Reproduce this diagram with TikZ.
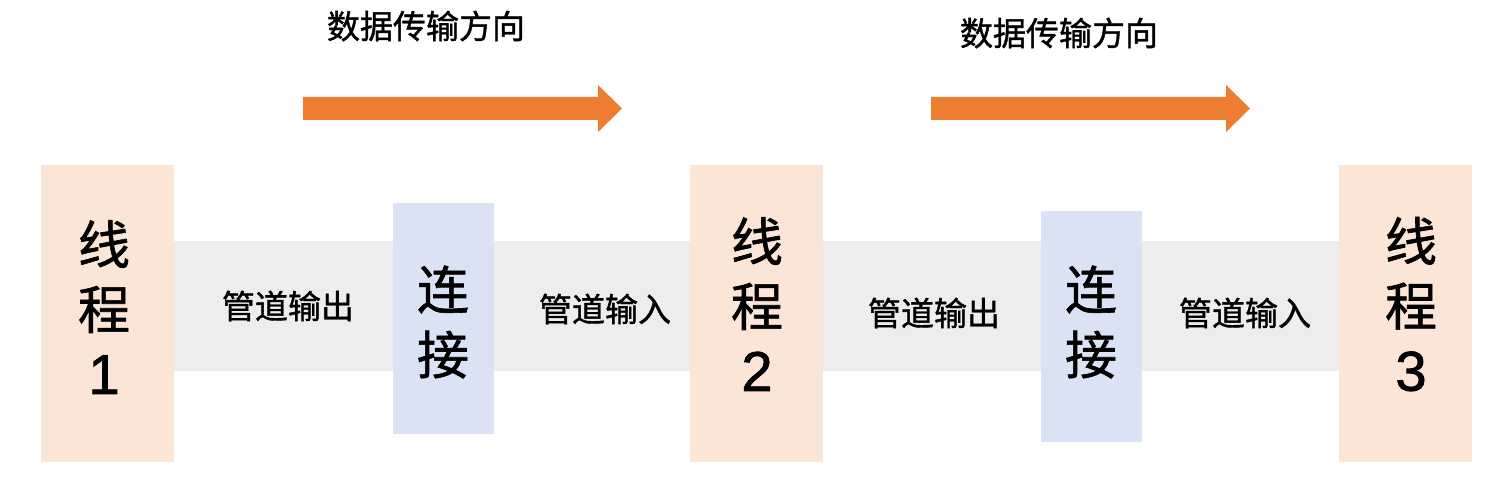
\documentclass[tikz,border=0pt]{standalone}
\usepackage{fontspec}
\setmainfont{Noto Sans CJK SC}[FakeBold=1.2]
\newfontfamily\digitfont{Liberation Sans}[FakeBold=1.5]
\definecolor{peach}{HTML}{FBE5D6}
\definecolor{paleblue}{HTML}{DAE3F3}
\definecolor{bandgray}{HTML}{EDEDED}
\definecolor{arroworange}{HTML}{ED7D31}
\begin{document}
\begin{tikzpicture}[x=0.5pt,y=-0.5pt,
  threadbox/.style={fill=peach,inner sep=0pt,minimum width=66.5pt,minimum height=148.5pt},
  linkbox/.style={fill=paleblue,inner sep=0pt,minimum width=50.5pt,minimum height=115.5pt},
  bigtext/.style={align=center,inner sep=0pt,font=\fontsize{26}{32.5}\selectfont},
  pipelabel/.style={inner sep=0pt,font=\fontsize{16.5}{20}\selectfont},
  titlelabel/.style={inner sep=0pt,font=\fontsize{16.5}{20}\selectfont},
  dirarrow/.style={fill=arroworange}]
\useasboundingbox (0,0) rectangle (1488,492);
% band
\node[fill=bandgray,inner sep=0pt,minimum width=582.5pt,minimum height=65pt] (band) at (756.5,306) {};
% boxes
\node[threadbox] (t1) at (107.5,313.5) {};
\node[threadbox] (t2) at (756.5,313.5) {};
\node[threadbox] (t3) at (1405.5,313.5) {};
\node[linkbox] (c1) at (443.5,318.5) {};
\node[linkbox] (c2) at (1091,326.5) {};
% box texts
\node[bigtext] (t1text) at (104,307) {线\\程\\{\digitfont\fontsize{28}{32.5}\selectfont 1}};
\node[bigtext] (t2text) at (757,304) {线\\程\\{\digitfont\fontsize{28}{32.5}\selectfont 2}};
\node[bigtext] (t3text) at (1411,304) {线\\程\\{\digitfont\fontsize{28}{32.5}\selectfont 3}};
\node[bigtext] (c1text) at (443,322) {连\\接};
\node[bigtext] (c2text) at (1091,322) {连\\接};
% pipe labels
\node[pipelabel] (out1) at (288,306) {管道输出};
\node[pipelabel] (in1) at (605,309) {管道输入};
\node[pipelabel] (out2) at (934,313) {管道输出};
\node[pipelabel] (in2) at (1245,313) {管道输入};
% titles
\node[titlelabel] (title1) at (426,26) {数据传输方向};
\node[titlelabel] (title2) at (1059,33) {数据传输方向};
% arrows
\fill[dirarrow] (303,97) -- (598,97) -- (598,85) -- (622,108.5) -- (598,132) -- (598,120) -- (303,120) -- cycle;
\fill[dirarrow] (931,97) -- (1226,97) -- (1226,85) -- (1250,108.5) -- (1226,132) -- (1226,120) -- (931,120) -- cycle;
\end{tikzpicture}
\end{document}
